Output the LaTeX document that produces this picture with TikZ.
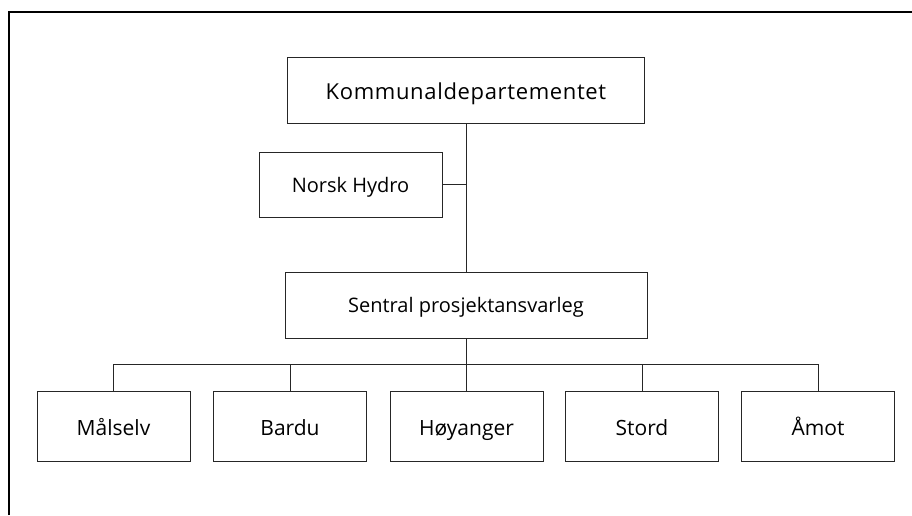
\documentclass[tikz,border=0pt]{standalone}
\usepackage{fontspec}
\setmainfont{Open Sans}
\begin{document}
\begin{tikzpicture}[x=1pt,y=-1pt]
  % Styles
  \tikzstyle{frame line}=[line width=2.2pt]
  \tikzstyle{unit}=[draw=black!85,line width=0.9pt,inner sep=0pt,text height=16pt,text depth=0pt,font=\fontsize{20}{24}\selectfont]
  \tikzstyle{municipality}=[style=unit,minimum width=153pt,minimum height=70pt,text height=18pt,font=\fontsize{21}{25}\selectfont]
  \tikzstyle{link}=[draw=black!85,line width=0.9pt]

  \useasboundingbox (0,0) rectangle (912,515);

  % The frame
  \draw[style=frame line] (9,515) -- (9,12) -- (912,12);

  % The graphic
  \node[style=unit,minimum width=357pt,minimum height=66pt,text height=18pt,font=\fontsize{22}{26}\selectfont] (dep) at (466,90)
    {\addfontfeature{LetterSpace=3}Kommunaldepartementet};
  \node[style=unit,minimum width=183pt,minimum height=65pt] (hyd) at (350.5,184.5) {Norsk Hydro};
  \node[style=unit,minimum width=362pt,minimum height=66pt,text height=14pt] (prj) at (466,305) {Sentral prosjektansvarleg};

  \foreach \x/\name/\unitname in {113.5/mal/Målselv, 290/bar/Bardu, 466.5/hoy/Høyanger, 642/sto/Stord, 818/amo/Åmot}
    \node[style=municipality] (\name) at (\x,426) {\unitname};

  % Connectors
  \draw[style=link] (dep.south) -- (prj.north);
  \draw[style=link] (hyd.east) -- (hyd.east -| dep.south);

  \path (prj.south) ++(0,26) coordinate (bus);
  \draw[style=link] (prj.south) -- (bus);
  \draw[style=link] (mal.north |- bus) -- (amo.north |- bus);
  \foreach \name in {mal,bar,hoy,sto,amo}
    \draw[style=link] (\name.north) -- (\name.north |- bus);
\end{tikzpicture}
\end{document}
